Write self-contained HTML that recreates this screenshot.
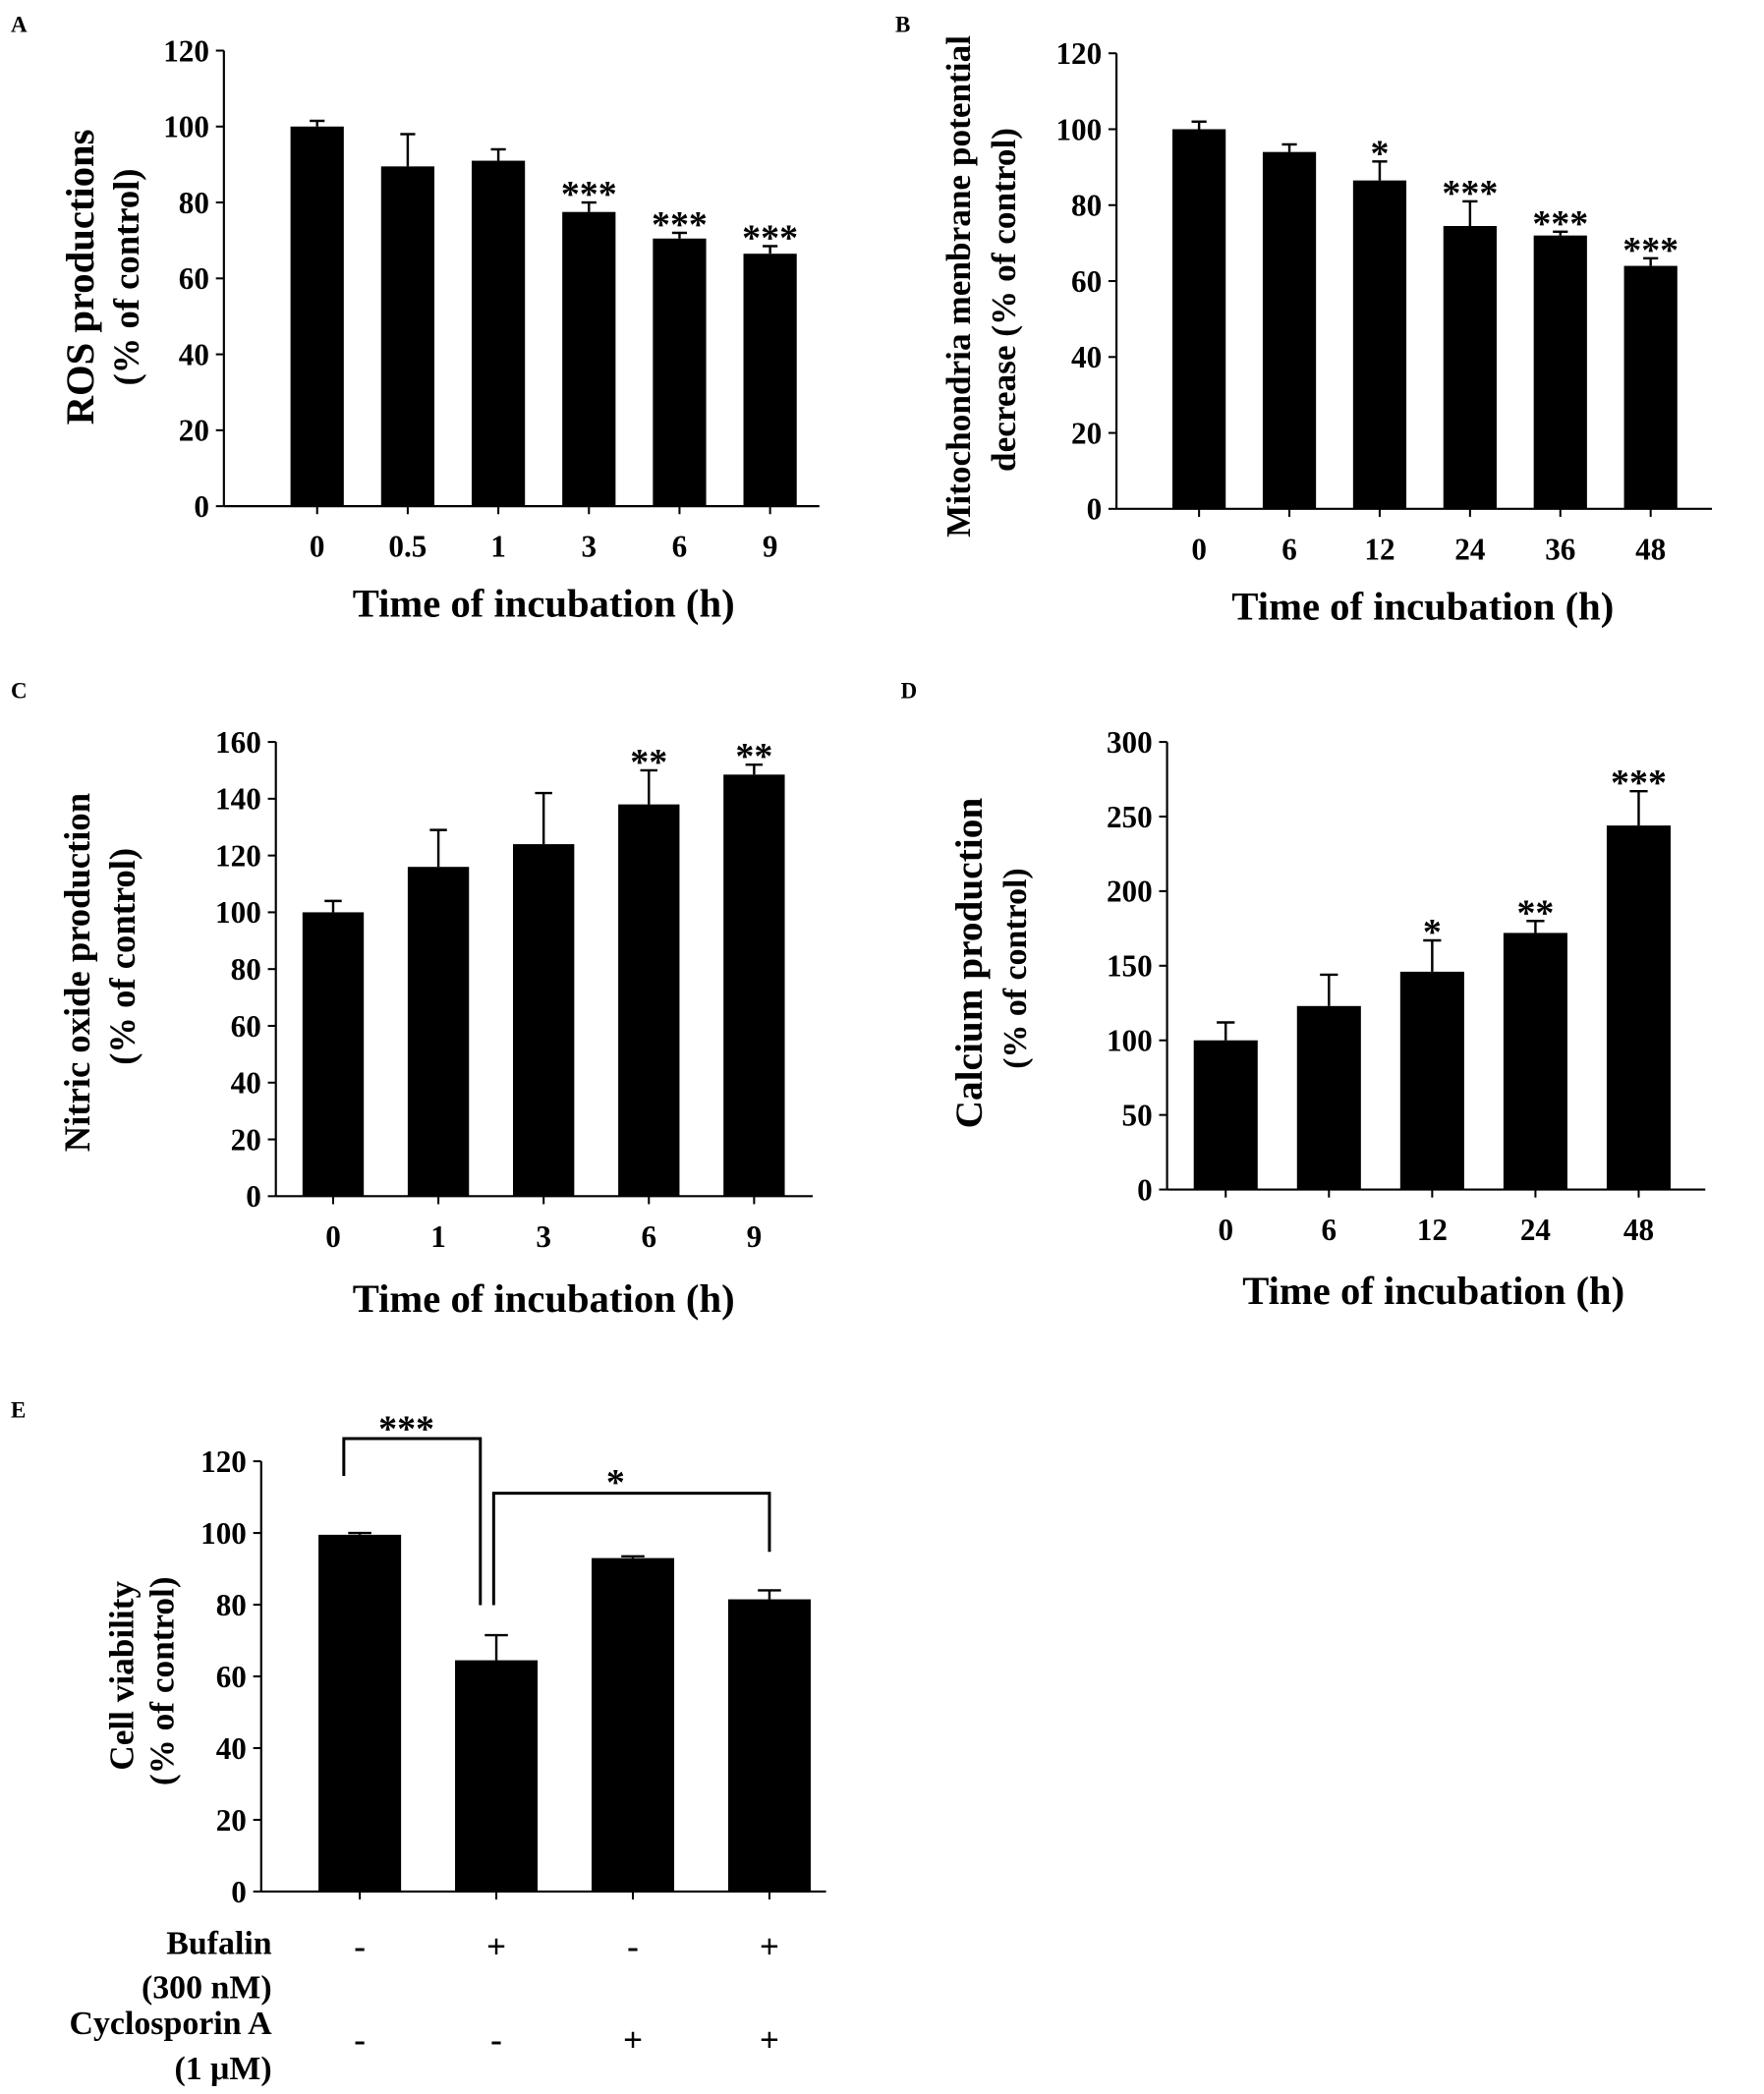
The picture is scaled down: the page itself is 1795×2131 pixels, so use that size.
<!DOCTYPE html>
<html><head><meta charset="utf-8">
<style>
html,body{margin:0;padding:0;background:#fff;}
svg{display:block;}
text{font-family:"Liberation Serif",serif;font-weight:bold;fill:#000;}
</style></head>
<body>
<svg id="fig" width="1795" height="2131" viewBox="0 0 1324 1572" xmlns="http://www.w3.org/2000/svg">
<text x="8" y="24" font-size="17">A</text>
<text x="672" y="24" font-size="17">B</text>
<text x="8" y="524" font-size="17">C</text>
<text x="676" y="524" font-size="17">D</text>
<text x="8" y="1064" font-size="17">E</text>
</svg>
<script>
// Panel A
const aCategories = ['0','0.5','1','3','6','9'];
const aValues = [100, 89.5, 91, 77.5, 70.5, 66.5];
const aErrors = [1.5, 8.5, 3, 2.5, 1.5, 2];
const aStars = ['', '', '', '***', '***', '***'];
const aTicks = [0,20,40,60,80,100,120];
// Panel B
const bCategories = ['0','6','12','24','36','48'];
const bValues = [100, 94, 86.5, 74.5, 72, 64];
const bErrors = [2, 2, 5, 6.5, 1, 2];
const bStars = ['', '', '*', '***', '***', '***'];
const bTicks = [0,20,40,60,80,100,120];
// Panel C
const cCategories = ['0','1','3','6','9'];
const cValues = [100, 116, 124, 138, 148.5];
const cErrors = [4, 13, 18, 12, 3.5];
const cStars = ['', '', '', '**', '**'];
const cTicks = [0,20,40,60,80,100,120,140,160];
// Panel D
const dCategories = ['0','6','12','24','48'];
const dValues = [100, 123, 146, 172, 244];
const dErrors = [12, 21, 21, 8, 23];
const dStars = ['', '', '*', '**', '***'];
const dTicks = [0,50,100,150,200,250,300];
// Panel E
const eCategories = ['ctrl','bufalin','csa','bufalin+csa'];
const eValues = [99.5, 64.5, 93, 81.5];
const eErrors = [0.5, 7, 0.5, 2.5];
const eTicks = [0,20,40,60,80,100,120];
const eBufalin = ['-','+','-','+'];
const eCyclosporin = ['-','-','+','+'];

const svg = document.getElementById('fig');
const NS = 'http://www.w3.org/2000/svg';
function mk(tag, attrs, txt){
  const e = document.createElementNS(NS, tag);
  for (const k in attrs) e.setAttribute(k, attrs[k]);
  if (txt !== undefined) e.textContent = txt;
  svg.appendChild(e);
  return e;
}

function panel(p){
  const {id, x0, y0, yTop, xEnd, max, ticks, cats, vals, errs, stars, c0, step, bw, titles, tx, ty} = p;
  const ys = v => y0 - (v / max) * (y0 - yTop);
  const xs = i => c0 + i * step;
  let e;
  e = mk('line', {x1:x0, y1:yTop, x2:x0, y2:y0, stroke:'#000', 'stroke-width':1.6});
  
  
  e = mk('line', {x1:x0, y1:y0, x2:xEnd, y2:y0, stroke:'#000', 'stroke-width':1.6});
  
  
  ticks.forEach(t => {
    const y = ys(t);
    mk('line', {x1:x0-6, y1:y, x2:x0, y2:y, stroke:'#000', 'stroke-width':1.5});
    e = mk('text', {x:x0-11, y:y+8, 'font-size':23, 'text-anchor':'end'}, String(t));
    
    
  });
  vals.forEach((v, i) => {
    const cx = xs(i);
    const top = ys(v);
    const eTop = ys(v + errs[i]);
    mk('line', {x1:cx, y1:eTop, x2:cx, y2:top, stroke:'#000', 'stroke-width':1.8});
    mk('line', {x1:cx - bw*0.14, y1:eTop, x2:cx + bw*0.14, y2:eTop, stroke:'#000', 'stroke-width':1.8});
    e = mk('rect', {x:cx - bw/2, y:top, width:bw, height:y0 - top, fill:'#000'});
    
    
    mk('line', {x1:cx, y1:y0, x2:cx, y2:y0+6, stroke:'#000', 'stroke-width':1.5});
    if (cats) {
      e = mk('text', {x:cx, y:y0+38, 'font-size':23, 'text-anchor':'middle'}, cats[i]);
      
      
    }
    if (stars && stars[i]) {
      e = mk('text', {x:cx, y:eTop + 3, 'font-size':28, 'text-anchor':'middle', 'font-weight':'normal'}, stars[i]);
      
      
    }
  });
  if (tx !== undefined) {
    e = mk('text', {x:tx, y:ty, 'font-size':30, 'text-anchor':'middle'}, 'Time of incubation (h)');
    
    
  }
  titles.forEach(t => {
    e = mk('text', {x:0, y:0, 'font-size':t.fs, 'text-anchor':'middle', transform:`translate(${t.x},${t.y}) rotate(-90)`}, t.s);
    
    
  });
  return {ys, xs};
}

panel({id:'a', x0:168, y0:380, yTop:38, xEnd:615, max:120, ticks:aTicks, cats:aCategories, vals:aValues, errs:aErrors, stars:aStars,
  c0:238, step:68, bw:40, tx:408, ty:463,
  titles:[{s:'ROS productions', x:70, y:208, fs:30},{s:'(% of control)', x:104, y:208, fs:27}]});
panel({id:'b', x0:838, y0:382, yTop:40, xEnd:1285, max:120, ticks:bTicks, cats:bCategories, vals:bValues, errs:bErrors, stars:bStars,
  c0:900, step:67.8, bw:40, tx:1068, ty:465,
  titles:[{s:'Mitochondria menbrane potential', x:728, y:215, fs:26},{s:'decrease (% of control)', x:762, y:225, fs:26}]});
panel({id:'c', x0:207, y0:898, yTop:557, xEnd:610, max:160, ticks:cTicks, cats:cCategories, vals:cValues, errs:cErrors, stars:cStars,
  c0:250, step:79, bw:46, tx:408, ty:985,
  titles:[{s:'Nitric oxide production', x:67, y:730, fs:27},{s:'(% of control)', x:101, y:718, fs:27}]});
panel({id:'d', x0:876, y0:893, yTop:557, xEnd:1280, max:300, ticks:dTicks, cats:dCategories, vals:dValues, errs:dErrors, stars:dStars,
  c0:920, step:77.5, bw:48, tx:1076, ty:979,
  titles:[{s:'Calcium production', x:737, y:723, fs:29},{s:'(% of control)', x:770, y:727, fs:25}]});
const E = panel({id:'e', x0:196, y0:1420, yTop:1097, xEnd:620, max:120, ticks:eTicks, cats:null, vals:eValues, errs:eErrors, stars:null,
  c0:270, step:102.5, bw:62,
  titles:[{s:'Cell viability', x:100, y:1258, fs:26},{s:'(% of control)', x:130, y:1262, fs:26}]});

// significance brackets in E
let br;
br = mk('path', {d:`M${E.xs(0)-12},${1108} L${E.xs(0)-12},1080 L${E.xs(1)-12},1080 L${E.xs(1)-12},1205`, fill:'none', stroke:'#000', 'stroke-width':2.2});


br = mk('text', {x:305, y:1082, 'font-size':28, 'text-anchor':'middle', 'font-weight':'normal'}, '***');


br = mk('path', {d:`M${E.xs(1)-2},1205 L${E.xs(1)-2},1121 L${E.xs(3)},1121 L${E.xs(3)},1165`, fill:'none', stroke:'#000', 'stroke-width':2.2});


br = mk('text', {x:462, y:1122, 'font-size':28, 'text-anchor':'middle', 'font-weight':'normal'}, '*');



// treatment labels
[['Bufalin',1467],['(300 nM)',1500],['Cyclosporin A',1527],['(1 μM)',1561]].forEach(([s,y]) => {
  const t = mk('text', {x:204, y:y, 'font-size':25, 'text-anchor':'end'}, s);
  
  
});
eBufalin.forEach((s,i) => {
  const t = mk('text', {x:E.xs(i), y:1470, 'font-size':26, 'text-anchor':'middle'}, s);
  
  
});
eCyclosporin.forEach((s,i) => {
  const t = mk('text', {x:E.xs(i), y:1540, 'font-size':26, 'text-anchor':'middle'}, s);
  
  
});
</script>
</body></html>
